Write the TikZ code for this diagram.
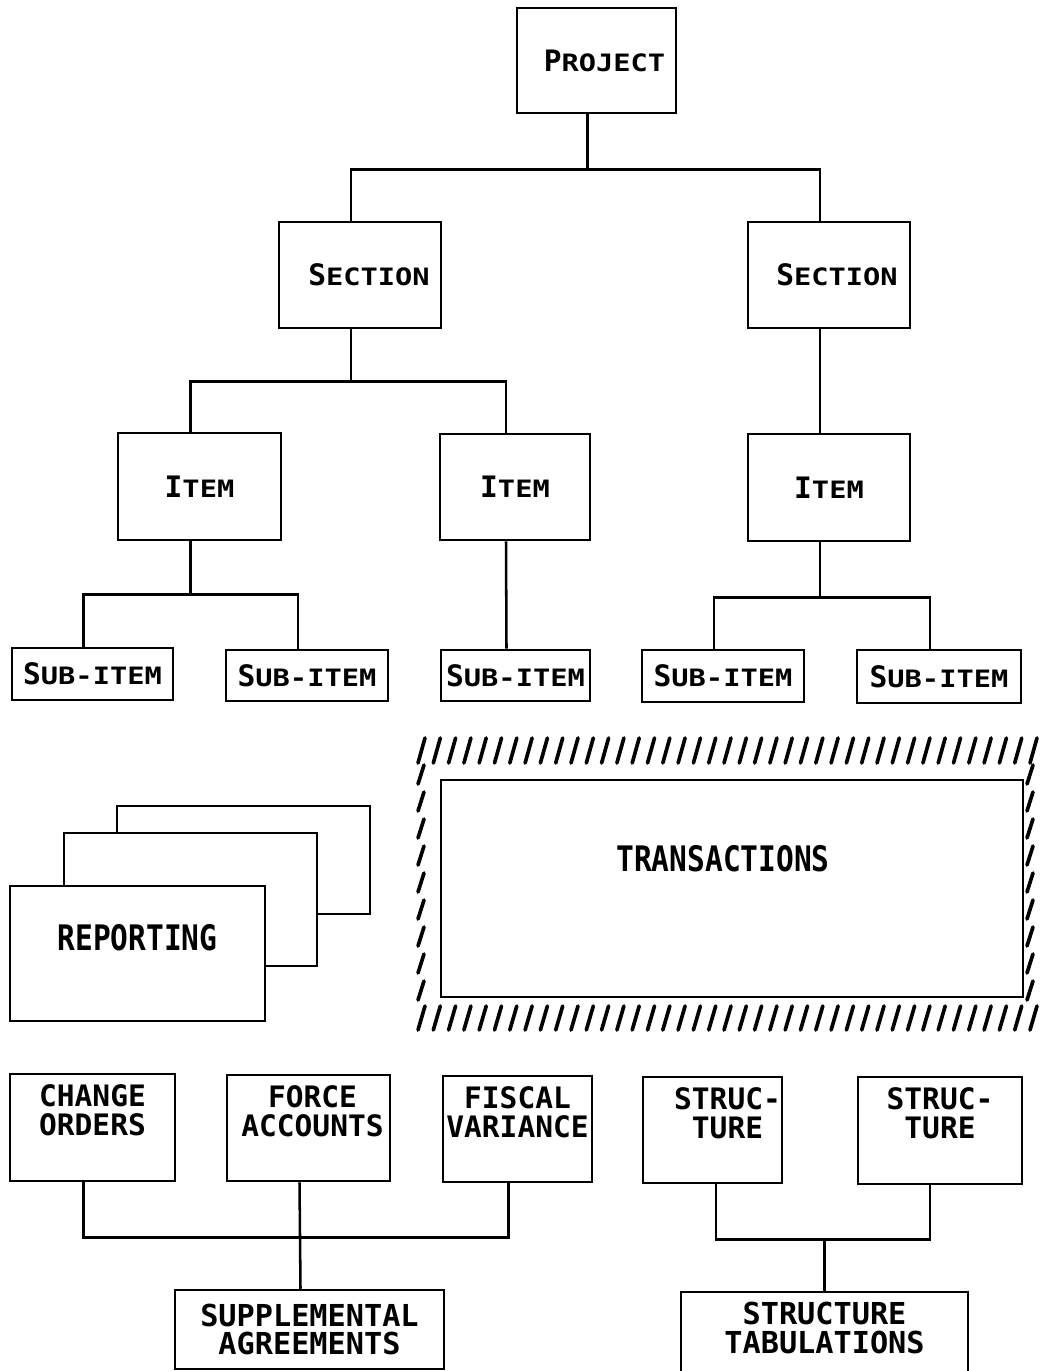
\documentclass[tikz,border=0pt]{standalone}
\usepackage{fontspec}

\newfontfamily\tallfont{DejaVu Sans Mono}
\newfontfamily\widefont{DejaVu Sans Mono}[FakeStretch=1.2]
\newfontfamily\narrowfont{DejaVu Sans Mono}[FakeStretch=0.84]

% small caps built from two sizes
\newcommand{\capsc}[2]{{\tallfont\bfseries\fontsize{21}{21}\selectfont #1}{\widefont\bfseries\fontsize{17}{17}\selectfont #2}}
\newcommand{\lowfont}{\narrowfont\bfseries\fontsize{25}{18.5}\selectfont}
\newcommand{\twofont}{\tallfont\bfseries\fontsize{21}{20}\selectfont}
\newcommand{\bigtwofont}{\tallfont\bfseries\fontsize{21.5}{20.5}\selectfont}

\def\pxu{0.025cm}
\def\sh{-9*\pxu}

\begin{document}
\begin{tikzpicture}[x=0.025cm, y=-0.025cm, line width=1.8pt,
	box/.style={draw, rectangle, fill=white, inner sep=0pt, align=center},
	sz/.style 2 args={minimum width=#1*\pxu, minimum height=#2*\pxu},
	toplab/.style={anchor=north, inner sep=0pt, align=center, font=\twofont, yshift=-11*\pxu},
	hatch/.style={line width=2.6pt, line cap=round}]

	\useasboundingbox (0,0) rectangle (1039,1371);

	% tree
	\node[box, sz={159}{105}] (proj) at (596.5,60.5) {\hspace*{0.4cm}\capsc{P}{ROJECT}};

	\node[box, sz={162}{106}] (sec1) at (360,275) {\hspace*{0.45cm}\capsc{S}{ECTION}};
	\node[box, sz={162}{106}] (sec2) at (829,275) {\hspace*{0.4cm}\capsc{S}{ECTION}};

	\node[box, sz={163}{107}] (item1) at (199.5,486.5) {\capsc{I}{TEM}};
	\node[box, sz={150}{106}] (item2) at (515,487) {\capsc{I}{TEM}};
	\node[box, sz={162}{107}] (item3) at (829,487.5) {\capsc{I}{TEM}};

	\node[box, sz={161}{52}] (sub1) at (92.5,674) {\capsc{S}{UB-ITEM}};
	\node[box, sz={162}{51}] (sub2) at (307,675.5) {\capsc{S}{UB-ITEM}};
	\node[box, sz={149}{51}] (sub3) at (515.5,675.5) {\capsc{S}{UB-ITEM}};
	\node[box, sz={162}{52}] (sub4) at (723,676) {\capsc{S}{UB-ITEM}};
	\node[box, sz={164}{53}] (sub5) at (939,676.5) {\capsc{S}{UB-ITEM}};

	% tree connectors
	\draw ([xshift=\sh]proj.south) -- ++(0,55) coordinate (pbar);
	\draw ([xshift=\sh]sec1.north) |- (pbar) -| ([xshift=\sh]sec2.north);

	\draw ([xshift=\sh]sec1.south) -- ++(0,52) coordinate (sbar);
	\draw ([xshift=\sh]item1.north) |- (sbar) -| ([xshift=\sh]item2.north);
	\draw ([xshift=\sh]sec2.south) -- ([xshift=\sh]item3.north);

	\draw ([xshift=\sh]item1.south) -- ++(0,53) coordinate (ibar1);
	\draw ([xshift=\sh]sub1.north) |- (ibar1) -| ([xshift=\sh]sub2.north);
	\draw ([xshift=\sh]item2.south) -- ([xshift=\sh]sub3.north);
	\draw ([xshift=\sh]item3.south) -- ++(0,55) coordinate (ibar3);
	\draw ([xshift=\sh]sub4.north) |- (ibar3) -| ([xshift=\sh]sub5.north);

	% reporting stack
	\node[box, sz={253}{108}] (rep3) at (243.5,860) {};
	\node[box, sz={253}{133}] (rep2) at (190.5,899.5) {};
	\node[box, sz={255}{135}, label={[font=\lowfont, yshift=16*\pxu]center:REPORTING}] (rep1) at (137.5,953.5) {};

	% transactions with hatched frame
	\node[box, sz={582}{217}, label={[font=\lowfont, xshift=-9*\pxu, yshift=30*\pxu]center:TRANSACTIONS}] (trans) at (732,888.5) {};
	\foreach \i in {0,...,40} {
		\draw[hatch] (418+15.3*\i,763) -- ++(7,-25);
		\draw[hatch] (418+15.3*\i,1030) -- ++(7,-24);
	}
	\foreach \j in {0,...,8} {
		\draw[hatch] (418,784+27*\j) -- ++(6,-19);
		\draw[hatch] (1027,784+27*\j) -- ++(6,-19);
	}

	% supplemental agreements
	\node[box, sz={165}{107}, label={[toplab]north:CHANGE\\ORDERS}] (chg) at (92.5,1127.5) {};
	\node[box, sz={163}{106}, label={[toplab, xshift=4*\pxu]north:FORCE\\ACCOUNTS}] (force) at (308.5,1128) {};
	\node[box, sz={149}{106}, label={[toplab]north:FISCAL\\VARIANCE}] (fisc) at (517.5,1129) {};
	\node[box, sz={269}{79}, font=\bigtwofont] (supp) at (309.5,1329.5) {SUPPLEMENTAL\\AGREEMENTS};

	\draw ([xshift=\sh]chg.south) -- ++(0,55) coordinate (cbar) -| ([xshift=\sh]fisc.south);
	\draw ([xshift=\sh]force.south) -- ([xshift=\sh]supp.north);

	% structure tabulations
	\node[box, sz={139}{106}, label={[toplab, xshift=15*\pxu]north:STRUC-\\TURE}] (str1) at (712.5,1130) {};
	\node[box, sz={164}{107}, label={[toplab]north:STRUC-\\TURE}] (str2) at (940,1130.5) {};
	\node[box, sz={287}{100}, label={[toplab, font=\bigtwofont, yshift=1*\pxu]north:STRUCTURE\\TABULATIONS}] (tab) at (824.5,1342) {};

	\draw ([xshift=3.5*\pxu]str1.south) -- ++(0,55) coordinate (tbar) -| ([xshift=-10*\pxu]str2.south);
	\draw (tab.north) -- (tab.north |- tbar);

\end{tikzpicture}
\end{document}
